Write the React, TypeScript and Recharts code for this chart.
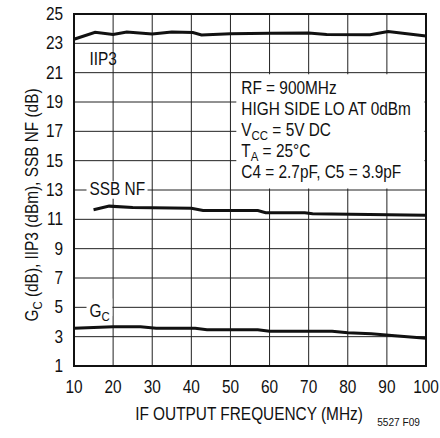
import React from "react";
import { CartesianGrid, Label, Line, LineChart, ReferenceArea, XAxis, YAxis } from "recharts";

const FONT = "'Liberation Sans', Arial, sans-serif";
const FS = 17.5;
const SX = 0.88;

const xTicks = [10, 20, 30, 40, 50, 60, 70, 80, 90, 100];
const yTicks = [1, 3, 5, 7, 9, 11, 13, 15, 17, 19, 21, 23, 25];

const iip3Freq = [10, 15.4, 20, 23.5, 30, 35, 40.4, 42.6, 50, 60, 70, 74.6, 85.7, 90.3, 100];
const iip3Val = [23.28, 23.75, 23.6, 23.77, 23.64, 23.77, 23.74, 23.57, 23.65, 23.68, 23.7, 23.6, 23.58, 23.8, 23.5];

const nfFreq = [15, 19, 25, 40, 43, 57, 59, 69, 71, 100];
const nfVal = [11.65, 11.9, 11.8, 11.75, 11.6, 11.6, 11.45, 11.45, 11.38, 11.28];

const gcFreq = [10, 20, 27, 31, 41, 44, 57, 60, 76, 80, 86, 92, 100];
const gcVal = [3.57, 3.68, 3.68, 3.57, 3.57, 3.48, 3.47, 3.37, 3.37, 3.27, 3.2, 3.06, 2.9];

const toRows = (f: number[], v: number[]) => f.map((x, i) => ({ f: x, v: v[i] }));

// condensed text: regular sans squeezed horizontally
function CText({ x, y, anchor = "start", size = FS, rotate = 0, children }: any) {
  return (
    <text
      transform={`translate(${x} ${y}) rotate(${rotate}) scale(${SX} 1)`}
      textAnchor={anchor}
      fontFamily={FONT}
      fontSize={size}
      fill="#111"
    >
      {children}
    </text>
  );
}

// main text, subscript, then rest of the line back on the baseline
function SubText({ main, sub, rest }: { main: string; sub: string; rest?: string }) {
  return (
    <>
      <tspan>{main}</tspan>
      <tspan fontSize={13} dy={4}>{sub}</tspan>
      {rest ? <tspan dy={-4}>{rest}</tspan> : null}
    </>
  );
}

function NoteBox({ viewBox }: any) {
  const x = viewBox.x + 5;
  const y = viewBox.y + 19.5;
  const lh = 21.2;
  return (
    <g>
      <CText x={x} y={y}>RF = 900MHz</CText>
      <CText x={x} y={y + lh}>HIGH SIDE LO AT 0dBm</CText>
      <CText x={x} y={y + lh * 2}>
        <SubText main="V" sub="CC" rest=" = 5V DC" />
      </CText>
      <CText x={x} y={y + lh * 3}>
        <SubText main="T" sub="A" rest=" = 25°C" />
      </CText>
      <CText x={x} y={y + lh * 4}>C4 = 2.7pF, C5 = 3.9pF</CText>
    </g>
  );
}

function SideLabel({ viewBox, text, sub, dy = 6 }: any) {
  return (
    <CText x={viewBox.x + 3} y={viewBox.y + viewBox.height / 2 + dy}>
      {sub ? <SubText main={text} sub={sub} /> : text}
    </CText>
  );
}

function YTitle({ viewBox }: any) {
  return (
    <CText x={38} y={viewBox.y + viewBox.height / 2 + 15} anchor="middle" rotate={-90}>
      <SubText main="G" sub="C" rest=" (dB), IIP3 (dBm), SSB NF (dB)" />
    </CText>
  );
}

const XTick = ({ x, y, payload }: any) => (
  <CText x={x} y={y + 15} anchor="middle">
    {payload.value}
  </CText>
);

const YTick = ({ x, y, payload }: any) => (
  <CText x={x} y={y + 6} anchor="end">
    {payload.value}
  </CText>
);

export default function App() {
  return (
    <div style={{ position: "absolute", left: 0, top: 0, width: 440, height: 438, background: "#fff" }}>
      <LineChart width={440} height={438} margin={{ top: 14, right: 14, bottom: 42, left: 0 }}>
        <CartesianGrid stroke="#222" strokeWidth={1} />
        <XAxis
          type="number"
          dataKey="f"
          domain={[10, 100]}
          ticks={xTicks}
          height={30}
          tickSize={0}
          tickMargin={12}
          axisLine={false}
          tick={<XTick />}
          interval={0}
          allowDuplicatedCategory={false}
        >
          <Label
            content={({ viewBox }: any) => (
              <g>
                <CText x={viewBox.x + viewBox.width / 2 - 1} y={viewBox.y + 54} anchor="middle">
                  IF OUTPUT FREQUENCY (MHz)
                </CText>
                <CText x={420} y={viewBox.y + 60} anchor="end" size={11.5}>
                  5527 F09
                </CText>
              </g>
            )}
          />
        </XAxis>
        <YAxis
          type="number"
          domain={[1, 25]}
          ticks={yTicks}
          width={74}
          tickSize={0}
          tickMargin={11}
          axisLine={false}
          interval={0}
          tick={<YTick />}
        >
          <Label content={YTitle} />
        </YAxis>
        <ReferenceArea x1={51.5} x2={99.6} y1={13.1} y2={20.9} fill="#fff" fillOpacity={1} stroke="none" label={<NoteBox />} />
        <ReferenceArea
          x1={13.2}
          x2={28.8}
          y1={12.4}
          y2={13.6}
          fill="#fff"
          fillOpacity={1}
          stroke="none"
          label={<SideLabel text="SSB NF" dy={5} />}
        />
        <ReferenceArea
          x1={13.2}
          x2={19.8}
          y1={4.4}
          y2={5.6}
          fill="#fff"
          fillOpacity={1}
          stroke="none"
          label={<SideLabel text="G" sub="C" dy={10} />}
        />
        <ReferenceArea
          x1={13.2}
          x2={19.7}
          y1={21.4}
          y2={22.6}
          fill="none"
          stroke="none"
          label={<SideLabel text="IIP3" dy={7} />}
        />
        <Line data={toRows(iip3Freq, iip3Val)} dataKey="v" type="linear" stroke="#111" strokeWidth={3} dot={false} isAnimationActive={false} />
        <Line data={toRows(nfFreq, nfVal)} dataKey="v" type="linear" stroke="#111" strokeWidth={3} dot={false} isAnimationActive={false} />
        <Line data={toRows(gcFreq, gcVal)} dataKey="v" type="linear" stroke="#111" strokeWidth={3} dot={false} isAnimationActive={false} />
        <ReferenceArea x1={10} x2={100} y1={1} y2={25} fill="none" stroke="#111" strokeWidth={2} />
      </LineChart>
    </div>
  );
}
